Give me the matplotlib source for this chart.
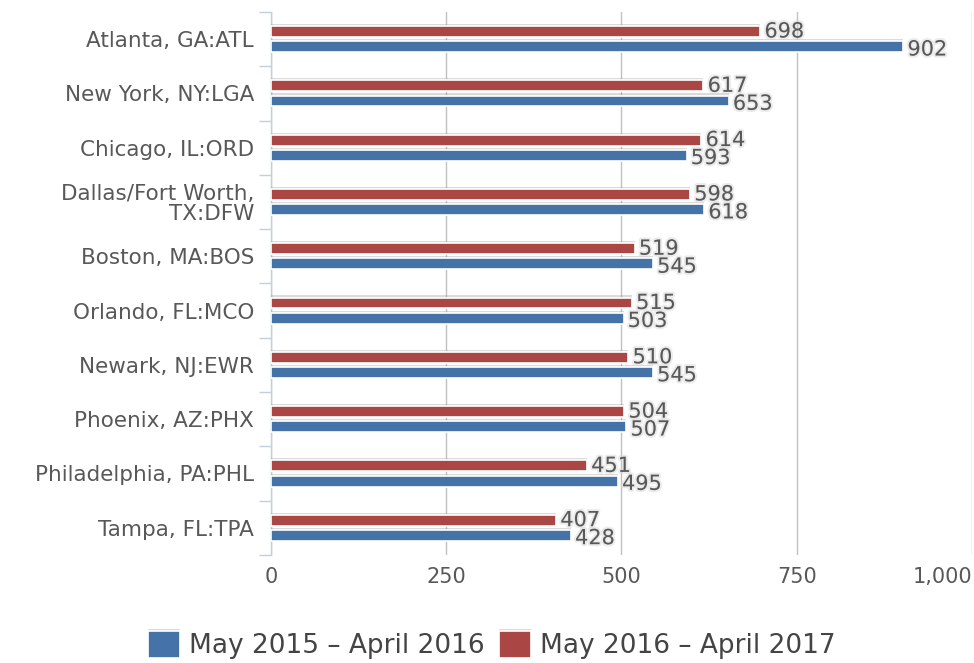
import matplotlib
matplotlib.use("Agg")
import matplotlib.pyplot as plt
import matplotlib.patheffects as pe
from matplotlib.ticker import FuncFormatter
import numpy as np

# ---------------------------------------------------------------------------
# DATA (top to bottom)
# ---------------------------------------------------------------------------
airports = [
    "Atlanta, GA:ATL", "New York, NY:LGA", "Chicago, IL:ORD",
    "Dallas/Fort Worth,\nTX:DFW", "Boston, MA:BOS", "Orlando, FL:MCO",
    "Newark, NJ:EWR", "Phoenix, AZ:PHX", "Philadelphia, PA:PHL", "Tampa, FL:TPA",
]
series_2015 = [902, 653, 593, 618, 545, 503, 545, 507, 495, 428]
series_2016 = [698, 617, 614, 598, 519, 515, 510, 504, 451, 407]
label_2015 = "May 2015 \u2013 April 2016"
label_2016 = "May 2016 \u2013 April 2017"
x_ticks = [0, 250, 500, 750, 1000]

BLUE = "#4572A7"
RED = "#AA4643"
TEXT = "#585858"

plt.rcParams["font.family"] = ["DejaVu Sans"]

fig = plt.figure(figsize=(9.74, 6.63), dpi=100)
ax = fig.add_axes([0.278, 0.163, 0.72, 0.819])

y = np.arange(len(airports))
bar_h = 0.2
off = 0.14

shadow = [pe.SimplePatchShadow(offset=(0, 1.5), shadow_rgbFace="#999999", alpha=0.35), pe.Normal()]
ax.barh(y - off, series_2016, height=bar_h, color=RED, edgecolor="white",
        linewidth=1.2, path_effects=shadow, zorder=3, label=label_2016)
ax.barh(y + off, series_2015, height=bar_h, color=BLUE, edgecolor="white",
        linewidth=1.2, path_effects=shadow, zorder=3, label=label_2015)

halo = [pe.withStroke(linewidth=3, foreground="#d8d8d8", alpha=0.5)]
for i in range(len(airports)):
    ax.annotate(str(series_2016[i]), (series_2016[i], y[i] - off), xytext=(3, 0),
                textcoords="offset points", va="center", ha="left",
                fontsize=15, color=TEXT, path_effects=halo, zorder=4)
    ax.annotate(str(series_2015[i]), (series_2015[i], y[i] + off), xytext=(3, -2),
                textcoords="offset points", va="center", ha="left",
                fontsize=15, color=TEXT, path_effects=halo, zorder=4)

ax.set_xlim(0, 1000)
ax.set_ylim(len(airports) - 0.5, -0.5)
ax.set_xticks(x_ticks)
ax.xaxis.set_major_formatter(FuncFormatter(lambda v, p: f"{int(v):,}"))
ax.tick_params(axis="x", length=0, pad=9, labelsize=15, labelcolor=TEXT)
for lbl in ax.get_xticklabels():
    if lbl.get_text() == "1,000":
        lbl.set_horizontalalignment("right")
ax.set_yticks(y)
ax.set_yticklabels(airports)
ax.tick_params(axis="y", length=0, pad=12, labelsize=15.5, labelcolor=TEXT)
for lbl in ax.get_yticklabels():
    lbl.set_multialignment("right")
    lbl.set_linespacing(1.0)
ax.set_yticks(np.arange(len(airports) + 1) - 0.5, minor=True)
ax.tick_params(axis="y", which="minor", length=9, color="#C0D0E0", width=1)

ax.grid(axis="x", color="#C0C0C0", linewidth=1, zorder=0)
ax.set_axisbelow(True)
for s in ["top", "right", "bottom"]:
    ax.spines[s].set_visible(False)
ax.spines["left"].set_color("#C0D0E0")
ax.spines["left"].set_linewidth(1)

# legend at bottom centre
handles, labels = ax.get_legend_handles_labels()
leg = fig.legend(handles[::-1], labels[::-1], loc="lower center",
                 bbox_to_anchor=(0.505, -0.03), ncol=2, frameon=False,
                 fontsize=19, handlelength=1.2, handleheight=1.2,
                 handletextpad=0.35, columnspacing=0.55)
for t in leg.get_texts():
    t.set_color("#444444")

fig.savefig("out.png", dpi=100)
